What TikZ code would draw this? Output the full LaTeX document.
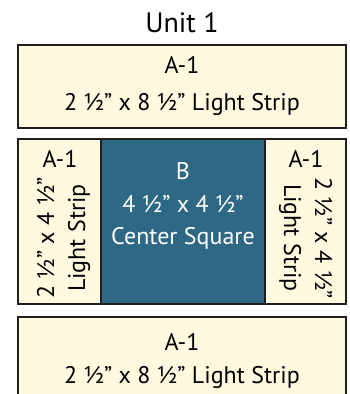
\documentclass[tikz,border=0pt]{standalone}
\usepackage{fontspec}
\setmainfont{PT Sans}
\definecolor{cream}{RGB}{255,249,224}
\definecolor{teal}{RGB}{46,104,132}
\definecolor{edge}{RGB}{30,30,30}
\begin{document}
\begin{tikzpicture}[x=1pt,y=1pt,
  piece/.style={draw=edge,line width=1.3pt},
  lbl/.style={inner sep=0pt,anchor=base,font=\fontsize{24}{24}\selectfont},
  wlbl/.style={lbl,text=white}]
\useasboundingbox (0,0) rectangle (350,394);
\clip (0,0) rectangle (350,394);
\node[lbl,font=\fontsize{28}{28}\selectfont] (title) at (182,361) {Unit 1};
% top strip
\draw[piece,fill=cream] (18,349) rectangle (346,266);
\node[lbl] (ta) at (182,320) {A-1};
\node[lbl] (tb) at (182,283) {2 ½” x 8 ½” Light Strip};
% middle row
\draw[piece,fill=cream] (18,255) rectangle (101,90);
\draw[piece,fill=teal] (101,255) rectangle (265,90);
\draw[piece,fill=cream] (265,255) rectangle (346,90);
\node[lbl] (la) at (60,226) {A-1};
\node[lbl,rotate=90] (l1) at (54,156) {2 ½” x 4 ½”};
\node[lbl,rotate=90] (l2) at (85,156) {Light Strip};
\node[wlbl] (cb) at (183,214) {B};
\node[wlbl] (cs) at (183,181) {4 ½” x 4 ½”};
\node[wlbl] (cn) at (183,149) {Center Square};
\node[lbl] (ra) at (306,226) {A-1};
\node[lbl,rotate=-90] (r1) at (315,156) {2 ½” x 4 ½”};
\node[lbl,rotate=-90] (r2) at (284,156) {Light Strip};
% bottom strip
\draw[piece,fill=cream] (18,77) rectangle (346,-10);
\node[lbl] (ba) at (182,43) {A-1};
\node[lbl] (bb) at (182,10) {2 ½” x 8 ½” Light Strip};
\end{tikzpicture}
\end{document}
